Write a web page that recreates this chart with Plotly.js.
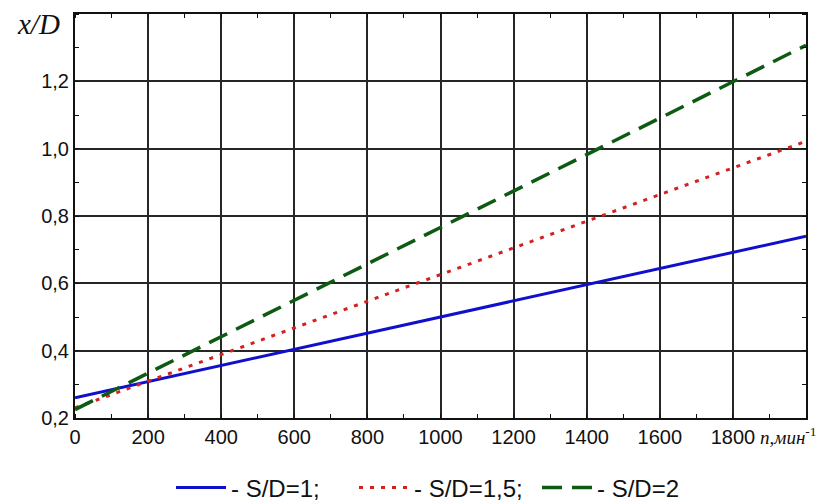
<!DOCTYPE html>
<html>
<head>
<meta charset="utf-8">
<script src="https://cdn.plot.ly/plotly-3.0.1.min.js"></script>
<style>html,body{margin:0;padding:0;background:#fff;}#chart{width:819px;height:501px;}</style>
</head>
<body>
<div id="chart"></div>
<script>
const nValues = [0, 200, 400, 600, 800, 1000, 1200, 1400, 1600, 1800, 2000];
const sd1 = [0.26, 0.308, 0.356, 0.404, 0.452, 0.50, 0.548, 0.596, 0.644, 0.692, 0.74];
const sd15 = [0.23, 0.309, 0.388, 0.468, 0.547, 0.626, 0.705, 0.784, 0.863, 0.943, 1.022];
const sd2 = [0.225, 0.333, 0.441, 0.55, 0.658, 0.766, 0.874, 0.982, 1.091, 1.199, 1.307];
const seriesNames = ['- S/D=1;', '- S/D=1,5;', '- S/D=2'];
const xTicks = [0, 200, 400, 600, 800, 1000, 1200, 1400, 1600, 1800];
const yTicks = [0.2, 0.4, 0.6, 0.8, 1.0, 1.2];

const traces = [
  {x: nValues, y: sd1, name: seriesNames[0], mode: 'lines', line: {color: '#1010cc', width: 3}},
  {x: nValues, y: sd15, name: seriesNames[1], mode: 'lines', line: {color: '#d42020', width: 3, dash: '4px,7px'}},
  {x: nValues, y: sd2, name: seriesNames[2], mode: 'lines', line: {color: '#0d5a12', width: 3.5, dash: '20px,10px'}}
];

const axisCommon = {
  showline: true, mirror: 'allticks', linecolor: '#111', linewidth: 2,
  showgrid: true, gridcolor: '#262626', gridwidth: 2,
  zeroline: false, ticks: '',
  tickfont: {family: 'Arial, Liberation Sans, sans-serif', size: 20, color: '#111'}
};

const layout = {
  width: 819, height: 501,
  margin: {l: 75, r: 13, t: 14, b: 83},
  paper_bgcolor: '#fff', plot_bgcolor: '#fff',
  separators: ', ',
  showlegend: true,
  legend: {
    orientation: 'h', xref: 'container', yref: 'container',
    x: 171 / 819, xanchor: 'left', y: 1 - 488 / 501, yanchor: 'middle',
    font: {family: 'Arial, Liberation Sans, sans-serif', size: 24, color: '#111'},
    itemwidth: 50,
    entrywidth: 118, entrywidthmode: 'pixels',
    tracegroupgap: 0
  },
  xaxis: Object.assign({}, axisCommon, {
    range: [0, 2000], tickvals: xTicks,
    minor: {ticks: 'inside', dtick: 100, ticklen: 4, tickcolor: '#111', showgrid: false}
  }),
  yaxis: Object.assign({}, axisCommon, {
    range: [0.2, 1.4], tickvals: yTicks, tickformat: '.1f',
    minor: {ticks: 'inside', dtick: 0.1, ticklen: 4, tickcolor: '#111', showgrid: false}
  }),
  annotations: [
    {text: '<i>x/D</i>', xref: 'paper', yref: 'paper', x: -0.0506, y: 0.975, xanchor: 'center', yanchor: 'middle',
     showarrow: false, font: {family: 'Times New Roman, Liberation Serif, serif', size: 29, color: '#111'}},
    {text: '<i>n,мин</i><sup>-1</sup>', xref: 'paper', yref: 'paper', x: 1.017, y: -0.010, xanchor: 'right', yanchor: 'top',
     showarrow: false, font: {family: 'Times New Roman, Liberation Serif, serif', size: 19, color: '#111'}}
  ]
};

Plotly.newPlot('chart', traces, layout, {displayModeBar: false, staticPlot: true});
</script>
</body>
</html>
